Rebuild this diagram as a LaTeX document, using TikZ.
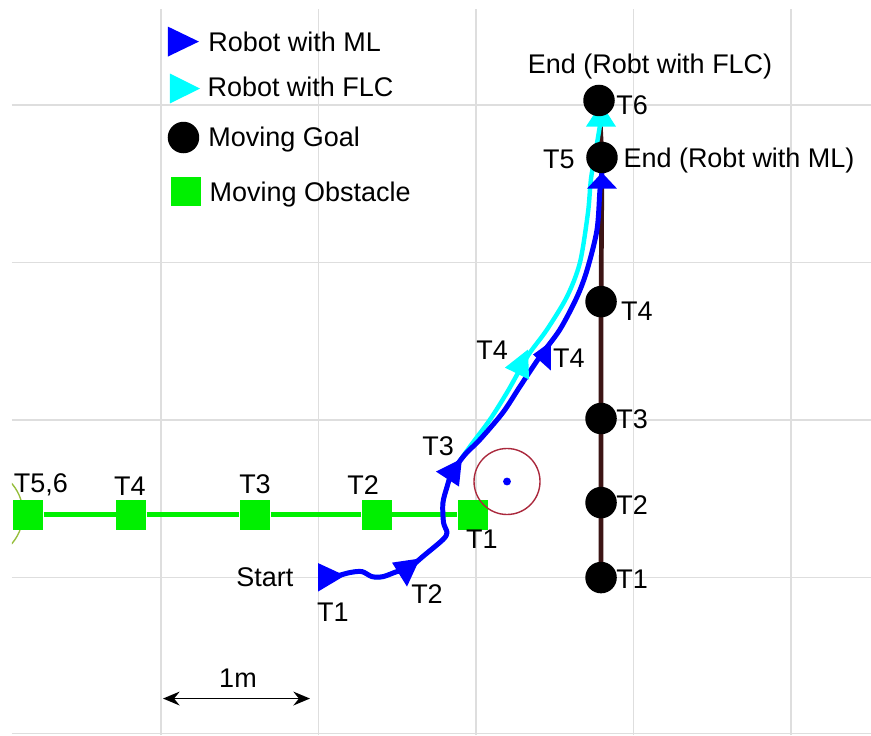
\documentclass[tikz,border=0pt]{standalone}
\usepackage{fontspec}
\setmainfont{Liberation Sans}
\usetikzlibrary{arrows.meta}
\definecolor{gridgray}{RGB}{222,222,222}
\definecolor{arcgreen}{RGB}{150,190,60}
\definecolor{circred}{RGB}{170,40,60}
\definecolor{goalline}{RGB}{60,20,20}
\definecolor{flccyan}{RGB}{0,255,255}
\definecolor{obstgreen}{RGB}{0,240,0}
\definecolor{mlblue}{RGB}{0,0,255}
\begin{document}
\begin{tikzpicture}[scale=2,x=1cm,y=1cm,
  every node/.style={inner sep=0pt,font=\fontsize{9.75pt}{11pt}\selectfont},
  goal/.style={circle,fill=black,minimum size=0.4cm},
  obst/.style={rectangle,fill=obstgreen,minimum size=0.38cm},
  mlpath/.style={mlblue,line width=1.8pt,line join=round},
  flcpath/.style={flccyan,line width=1.6pt,line join=round}]
 \useasboundingbox (-0.022,0) rectangle (5.508,4.667);
 \foreach \x in {1,...,5} \draw[gridgray,line width=0.5pt] (\x,0) -- (\x,4.613);
 \foreach \y in {0.01,1,2,3,4} \draw[gridgray,line width=0.5pt] (0.054,\y) -- (5.508,\y);
 \begin{scope}
  \clip (0.054,0) rectangle (1,4.613);
  \draw[arcgreen,line width=0.5pt] (-0.168,1.406) circle (0.292);
 \end{scope}
 \node[obst] (o1) at (2.981,1.4) {};
 \node[obst] (o2) at (2.371,1.4) {};
 \node[obst] (o3) at (1.597,1.4) {};
 \node[obst] (o4) at (0.810,1.4) {};
 \node[obst] (o5) at (0.156,1.4) {};
 \draw[obstgreen,line width=1.8pt] (o5) -- (o4) -- (o3) -- (o2) -- (o1);
 \node (lo1) at (3.038,1.241) {T1};
 \node (lo2) at (2.283,1.590) {T2};
 \node (lo3) at (1.597,1.590) {T3};
 \node (lo4) at (0.803,1.578) {T4};
 \node (lo5) at (0.238,1.590) {T5,6};
 \draw[circred,line width=0.5pt] (3.197,1.610) circle (0.2095);
 \fill[mlblue] (3.197,1.610) circle (0.025);
 \coordinate (g1) at (3.794,1.0);
 \coordinate (g2) at (3.794,1.476);
 \coordinate (g3) at (3.794,2.010);
 \coordinate (g4) at (3.794,2.752);
 \coordinate (g5) at (3.8,3.667);
 \coordinate (g6) at (3.781,4.029);
 \draw[goalline,line width=1.7pt] (g1) -- (g2) -- (g3) -- (g4) -- (g5) -- (g6);
 \draw[flcpath] plot[smooth] coordinates {(2.105,1.006) (2.200,1.032) (2.276,1.038)
   (2.340,1.006) (2.410,1.006) (2.498,1.038) (2.562,1.051) (2.670,1.140) (2.790,1.241)
   (2.816,1.286) (2.794,1.349) (2.790,1.473) (2.816,1.575) (2.848,1.667) (2.962,1.832)
   (3.089,2.003) (3.197,2.175) (3.279,2.321) (3.343,2.429) (3.451,2.575) (3.578,2.784)
   (3.660,3.0) (3.711,3.317) (3.730,3.530) (3.762,3.721) (3.787,3.873) (3.794,3.975)};
 \draw[mlpath] plot[smooth] coordinates {(2.105,1.006) (2.200,1.032) (2.276,1.038)
   (2.340,1.006) (2.410,1.006) (2.498,1.038) (2.562,1.051) (2.670,1.140) (2.790,1.241)
   (2.816,1.286) (2.794,1.349) (2.790,1.473) (2.816,1.575) (2.848,1.667) (2.930,1.781)
   (3.025,1.876) (3.171,2.048) (3.279,2.213) (3.406,2.403) (3.533,2.575) (3.641,2.781)
   (3.705,2.952) (3.768,3.206) (3.787,3.460) (3.8,3.578)};
 \fill[mlblue] (1.997,1.092) -- (1.997,0.911) -- (2.168,1.013) -- cycle;
 \fill[mlblue] (2.467,1.095) -- (2.644,1.121) -- (2.562,0.943) -- cycle;
 \fill[mlblue] (2.746,1.673) -- (2.911,1.756) -- (2.892,1.578) -- cycle;
 \fill[flccyan] (3.184,2.333) -- (3.330,2.448) -- (3.337,2.257) -- cycle;
 \fill[mlblue] (3.362,2.416) -- (3.476,2.499) -- (3.476,2.314) -- cycle;
 \fill[mlblue] (3.8,3.571) -- (3.705,3.470) -- (3.895,3.470) -- cycle;
 \fill[flccyan] (3.794,4.010) -- (3.698,3.863) -- (3.889,3.863) -- cycle;
 \node[goal] (goal1) at (g1) {};
 \node[goal] (goal2) at (g2) {};
 \node[goal] (goal3) at (g3) {};
 \node[goal] (goal4) at (g4) {};
 \node[goal] (goal5) at (g5) {};
 \node[goal] (goal6) at (g6) {};
 \node (lg1) at (3.991,0.987) {T1};
 \node (lg2) at (3.991,1.463) {T2};
 \node (lg3) at (3.991,2.003) {T3};
 \node (lg4) at (4.022,2.689) {T4};
 \node (lg5) at (3.527,3.654) {T5};
 \node (lg6) at (3.991,4.0) {T6};
 \node (endml) at (4.670,3.65) {End (Robt with ML)};
 \node (endflc) at (4.105,4.246) {End (Robt with FLC)};
 \node (start) at (1.660,1.0) {Start};
 \node (lr1) at (2.092,0.778) {T1};
 \node (lr2) at (2.689,0.898) {T2};
 \node (lr3) at (2.759,1.832) {T3};
 \node (lc4) at (3.102,2.441) {T4};
 \node (lr4) at (3.590,2.390) {T4};
 % legend
 \fill[mlblue] (1.044,4.498) -- (1.044,4.308) -- (1.241,4.403) -- cycle;
 \fill[flccyan] (1.057,4.200) -- (1.057,4.010) -- (1.248,4.105) -- cycle;
 \node[goal] (leggoal) at (1.143,3.794) {};
 \node[obst] (legobst) at (1.159,3.451) {};
 \node[anchor=west] (legml) at (1.298,4.403) {Robot with ML};
 \node[anchor=west] (legflc) at (1.292,4.117) {Robot with FLC};
 \node[anchor=west] (legg) at (1.298,3.781) {Moving Goal};
 \node[anchor=west] (lego) at (1.305,3.432) {Moving Obstacle};
 % scale bar
 \coordinate (sbl) at (1.013,0.232);
 \coordinate (sbr) at (1.946,0.232);
 \draw[{Stealth[length=6pt,width=5pt,inset=2pt]}-{Stealth[length=6pt,width=5pt,inset=2pt]},line width=0.6pt] (sbl) -- (sbr);
 \node (onem) at (1.489,0.359) {1m};
\end{tikzpicture}
\end{document}
